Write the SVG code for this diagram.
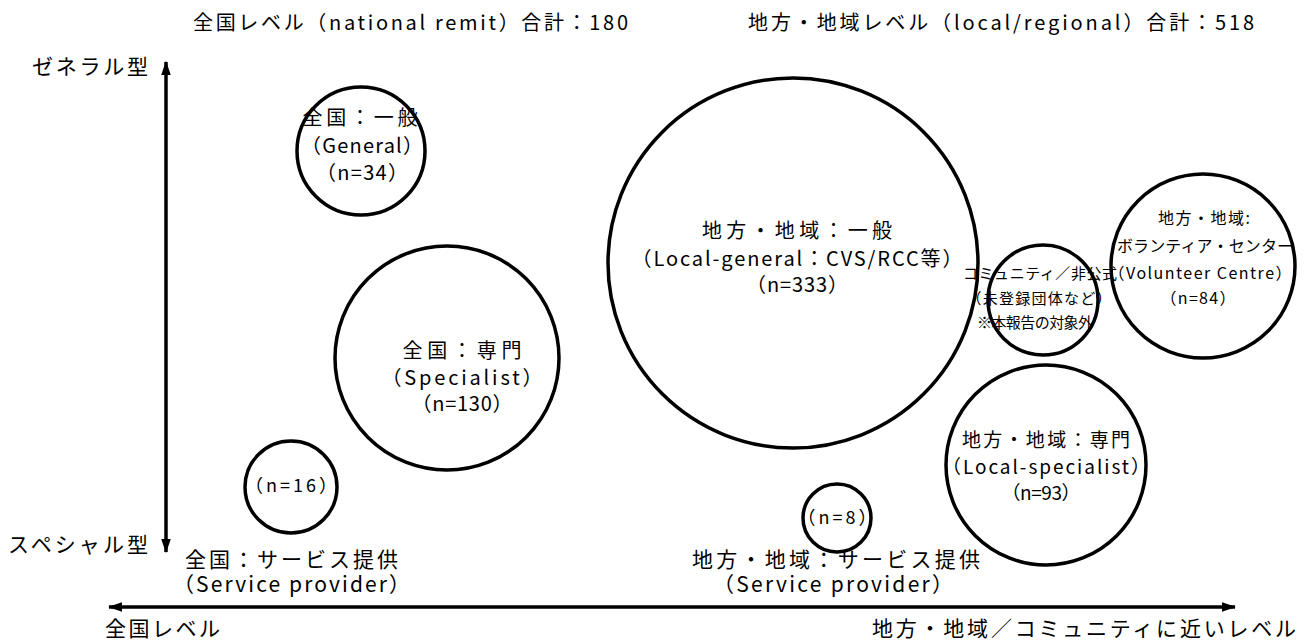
<svg xmlns="http://www.w3.org/2000/svg" width="1312" height="641" viewBox="0 0 1312 641">
<style>
text{font-family:"Noto Sans CJK JP","Noto Sans CJK SC",sans-serif;fill:#000}
.c{fill:none;stroke:#000;stroke-width:3.5}
.ax{stroke:#000;stroke-width:3.5;fill:none}
.m{text-anchor:middle}
.f21{font-size:21px}
.f20{font-size:20px}
.f19{font-size:19px}
.f18{font-size:18px}
.f16{font-size:16px}
.f15{font-size:15px}
</style>
<defs>
<marker id="ah" viewBox="0 0 12 8" refX="11" refY="4" markerWidth="4.2" markerHeight="2.8" orient="auto-start-reverse" markerUnits="strokeWidth">
<path d="M0,0 L12,4 L0,8 z" fill="#000"/>
</marker>
</defs>
<rect width="1312" height="641" fill="#fff"/>
<g id="connectors">
<line class="ax" x1="166" y1="62" x2="166" y2="552" marker-start="url(#ah)" marker-end="url(#ah)"/>
<line class="ax" x1="109" y1="607" x2="1235" y2="607" marker-start="url(#ah)" marker-end="url(#ah)"/>
</g>
<g id="header">
<text class="f20" x="193" y="30" textLength="435" lengthAdjust="spacing">全国レベル（national remit）合計：180</text>
<text class="f20" x="748" y="30" textLength="506" lengthAdjust="spacing">地方・地域レベル（local/regional）合計：518</text>
</g>
<g id="axis-labels">
<text class="f21" x="32" y="74" textLength="116" lengthAdjust="spacing">ゼネラル型</text>
<text class="f21" x="8" y="552" textLength="140" lengthAdjust="spacing">スペシャル型</text>
<text class="f21" x="105" y="636" textLength="115" lengthAdjust="spacing">全国レベル</text>
<text class="f21" x="872" y="636" textLength="424" lengthAdjust="spacing">地方・地域／コミュニティに近いレベル</text>
</g>
<g id="national-general">
<circle class="c" cx="361" cy="151" r="64"/>
<text class="f20 m" x="360" y="125" textLength="115" lengthAdjust="spacing">全国：一般</text>
<text class="f20 m" x="362" y="153" textLength="122" lengthAdjust="spacing">（General）</text>
<text class="f20 m" x="362" y="180" textLength="92" lengthAdjust="spacing">（n=34）</text>
</g>
<g id="national-specialist">
<circle class="c" cx="447" cy="358" r="112"/>
<text class="f20 m" x="462" y="358" textLength="119" lengthAdjust="spacing">全国：専門</text>
<text class="f20 m" x="462" y="385" textLength="161" lengthAdjust="spacing">（Specialist）</text>
<text class="f20 m" x="462" y="411" textLength="101" lengthAdjust="spacing">（n=130）</text>
</g>
<g id="national-service">
<circle class="c" cx="291" cy="487" r="46"/>
<text class="f18 m" x="291" y="492" textLength="92" lengthAdjust="spacing">（n=16）</text>
<text class="f21" x="185" y="567" textLength="213" lengthAdjust="spacing">全国：サービス提供</text>
<text class="f21" x="173" y="592" textLength="237" lengthAdjust="spacing">（Service provider）</text>
</g>
<g id="local-general">
<circle class="c" cx="793" cy="263" r="185"/>
<text class="f20 m" x="797" y="238" textLength="190" lengthAdjust="spacing">地方・地域：一般</text>
<text class="f20 m" x="797" y="266" textLength="331" lengthAdjust="spacing">（Local-general：CVS/RCC等）</text>
<text class="f20 m" x="797" y="292" textLength="102" lengthAdjust="spacing">（n=333）</text>
</g>
<g id="community">
<circle class="c" cx="1043" cy="300" r="55"/>
<text class="f15 m" x="1040" y="279" textLength="154" lengthAdjust="spacing">コミュニティ／非公式</text>
<text class="f15 m" x="1039" y="304" textLength="145" lengthAdjust="spacing">（未登録団体など）</text>
<text class="f15 m" x="1035" y="328" textLength="116" lengthAdjust="spacing">※本報告の対象外</text>
</g>
<g id="volunteer-centre">
<circle class="c" cx="1203" cy="266" r="92"/>
<text class="f16 m" x="1204" y="224" textLength="92" lengthAdjust="spacing">地方・地域:</text>
<text class="f16 m" x="1205" y="252" textLength="176" lengthAdjust="spacing">ボランティア・センター</text>
<text class="f16 m" x="1200" y="279" textLength="183" lengthAdjust="spacing">（Volunteer Centre）</text>
<text class="f16 m" x="1198" y="304" textLength="75" lengthAdjust="spacing">（n=84）</text>
</g>
<g id="local-specialist">
<circle class="c" cx="1046" cy="465" r="100"/>
<text class="f19 m" x="1046" y="447" textLength="168" lengthAdjust="spacing">地方・地域：専門</text>
<text class="f19 m" x="1046" y="474" textLength="208" lengthAdjust="spacing">（Local-specialist）</text>
<text class="f19 m" x="1041" y="500" textLength="79" lengthAdjust="spacing">（n=93）</text>
</g>
<g id="local-service">
<circle class="c" cx="837" cy="518" r="34"/>
<text class="f18 m" x="837" y="524" textLength="79" lengthAdjust="spacing">（n=8）</text>
<text class="f21" x="692" y="567" textLength="288" lengthAdjust="spacing">地方・地域：サービス提供</text>
<text class="f21" x="713" y="592" textLength="240" lengthAdjust="spacing">（Service provider）</text>
</g>
</svg>
